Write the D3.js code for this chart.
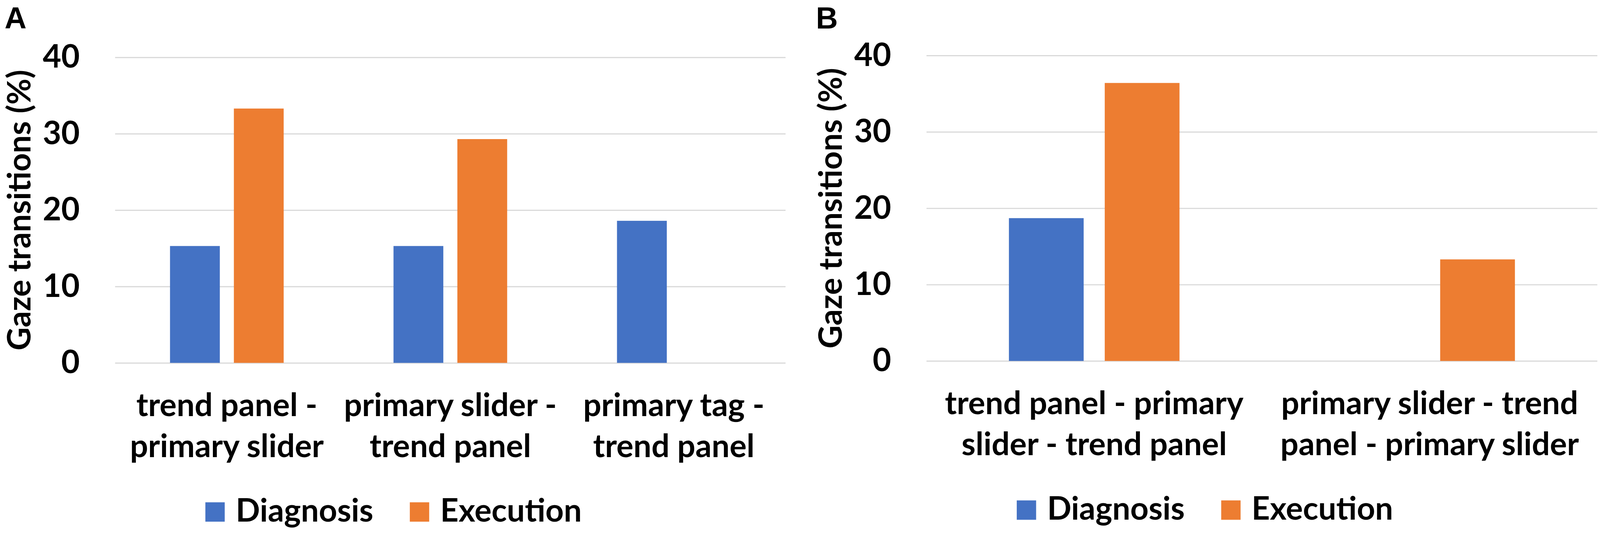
<!DOCTYPE html>
<html lang="en">

<head>
  <meta charset="utf-8">
  <title>Gaze transitions - diagnosis vs execution</title>
  <script src="https://cdnjs.cloudflare.com/ajax/libs/d3/7.8.5/d3.min.js"></script>
  <style>
    html, body { margin: 0; padding: 0; background: #fff; overflow: hidden; }
    svg { display: block; width: 100vw; height: auto; }
    text { font-family: Lato, 'Open Sans', sans-serif; font-weight: 700; fill: #000; }
  </style>
</head>

<body>

  <svg id="chart" viewBox="0 0 4212 1400"></svg>

  <script>
    // data

    const seriesNames = ['Diagnosis', 'Execution'];
    const seriesColors = ['#4472C4', '#ED7D31'];
    const yTicks = [0, 10, 20, 30, 40];

    const categoriesA = ['trend panel - primary slider', 'primary slider - trend panel', 'primary tag - trend panel'];
    const diagnosisA = [15.3, 15.3, 18.6];
    const executionA = [33.3, 29.3, 0];

    const categoriesB = ['trend panel - primary slider - trend panel', 'primary slider - trend panel - primary slider'];
    const diagnosisB = [18.7, 0];
    const executionB = [36.4, 13.3];

    const fontSize = 84;
    const svg = d3.select('#chart');

    drawPanel({
      letter: 'A', left: 0, plotLeft: 303, plotRight: 2068, top: 151, bottom: 955,
      categories: categoriesA, values: [diagnosisA, executionA], legendCenter: 1036
    });

    drawPanel({
      letter: 'B', left: 2136, plotLeft: 2439, plotRight: 4205, top: 146, bottom: 950,
      categories: categoriesB, values: [diagnosisB, executionB], legendCenter: 3172
    });

    function drawPanel(p) {
      const g = svg.append('g');

      // panel letter

      g.append('text')
        .attr('x', p.left + 12)
        .attr('y', 75)
        .style('font-family', "'Liberation Sans', Arial, sans-serif")
        .style('font-size', '80px')
        .text(p.letter);

      // scales

      const y = d3.scaleLinear()
        .domain([0, 40])
        .range([p.bottom, p.top]);

      const x0 = d3.scaleBand()
        .domain(p.categories)
        .range([p.plotLeft, p.plotRight])
        .padding(0);

      const x1 = d3.scaleBand()
        .domain(seriesNames)
        .range([0, x0.bandwidth()])
        .paddingInner(0.22)
        .paddingOuter(0.86);

      // y-axis with gridlines

      const yAxis = g.append('g')
        .attr('transform', `translate(${p.plotLeft}, 0)`)
        .call(d3.axisLeft(y)
          .tickValues(yTicks)
          .tickSizeInner(-(p.plotRight - p.plotLeft))
          .tickSizeOuter(0)
          .tickPadding(93));

      yAxis.select('.domain').remove();
      yAxis.selectAll('.tick line')
        .attr('stroke', '#D9D9D9')
        .attr('stroke-width', 3);
      yAxis.selectAll('.tick text')
        .attr('fill', '#000')
        .style('font-size', fontSize + 'px');

      // bars

      const rows = p.categories.map((c, i) => ({
        category: c,
        bars: seriesNames.map((s, j) => ({ series: s, value: p.values[j][i], color: seriesColors[j] }))
      }));

      g.selectAll('.group')
        .data(rows)
        .enter()
        .append('g')
        .attr('transform', d => `translate(${x0(d.category)}, 0)`)
        .selectAll('rect')
        .data(d => d.bars.filter(b => b.value > 0))
        .enter()
        .append('rect')
        .attr('x', b => x1(b.series))
        .attr('y', b => y(b.value))
        .attr('width', x1.bandwidth())
        .attr('height', b => p.bottom - y(b.value))
        .attr('fill', b => b.color);

      // category labels

      const xAxis = g.append('g')
        .attr('transform', `translate(0, ${p.bottom})`)
        .call(d3.axisBottom(x0).tickSize(0).tickPadding(0));

      xAxis.select('.domain').remove();
      xAxis.selectAll('.tick text')
        .attr('fill', '#000')
        .style('font-size', fontSize + 'px')
        .call(wrap, x0.bandwidth() * 0.98, 140, 108);

      // y-axis title

      g.append('text')
        .attr('transform', `translate(${p.left + 80}, ${(p.top + p.bottom) / 2}) rotate(-90)`)
        .attr('text-anchor', 'middle')
        .style('font-size', fontSize + 'px')
        .text('Gaze transitions (%)');

      // legend

      const legendY = p.bottom + 418;
      const legend = g.append('g');
      let cursor = 0;
      seriesNames.forEach((s, j) => {
        if (j > 0) cursor += 96;
        legend.append('rect')
          .attr('x', cursor)
          .attr('y', legendY - 51)
          .attr('width', 51)
          .attr('height', 51)
          .attr('fill', seriesColors[j]);
        cursor += 51 + 29;
        const t = legend.append('text')
          .attr('x', cursor)
          .attr('y', legendY)
          .style('font-size', fontSize + 'px')
          .text(s);
        cursor += t.node().getComputedTextLength();
      });
      legend.attr('transform', `translate(${p.legendCenter - cursor / 2}, 0)`);
    }

    function wrap(texts, width, firstLine, lineHeight) {
      texts.each(function () {
        const text = d3.select(this);
        const words = text.text().split(/\s+/);
        text.text(null).attr('y', 0).attr('dy', null);
        let line = [];
        let lineNo = 0;
        let tspan = text.append('tspan').attr('x', 0).attr('y', firstLine);
        words.forEach(word => {
          line.push(word);
          tspan.text(line.join(' '));
          if (tspan.node().getComputedTextLength() > width && line.length > 1) {
            line.pop();
            tspan.text(line.join(' '));
            line = [word];
            lineNo += 1;
            tspan = text.append('tspan')
              .attr('x', 0)
              .attr('y', firstLine + lineNo * lineHeight)
              .text(word);
          }
        });
      });
    }
  </script>

</body>

</html>
